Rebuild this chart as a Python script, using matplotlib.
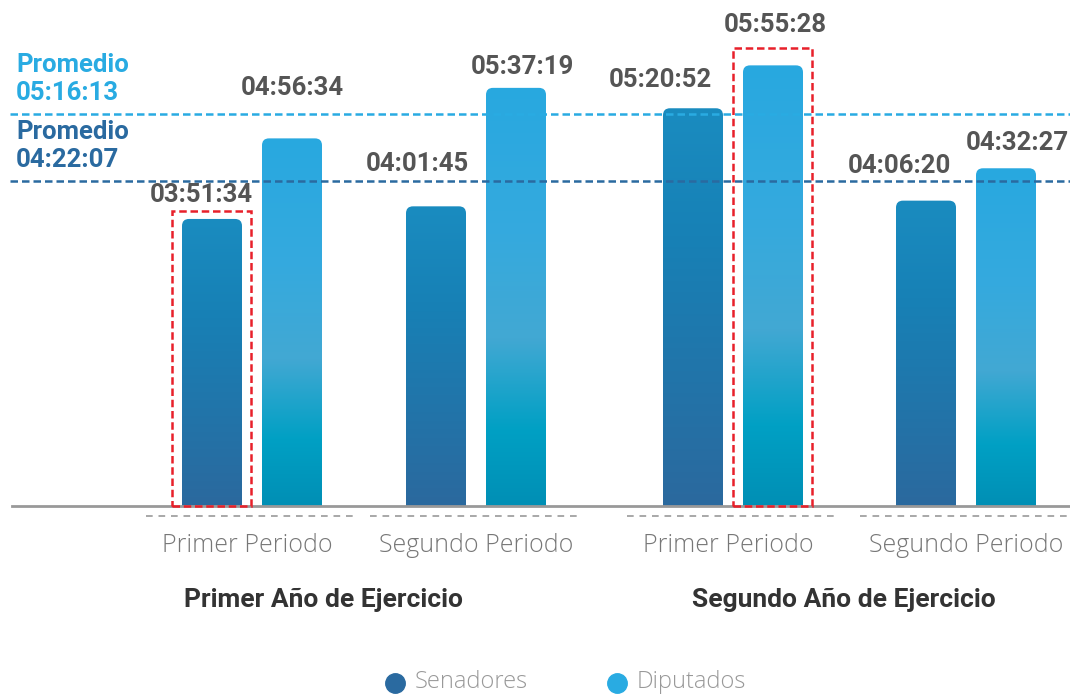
import matplotlib
matplotlib.use("Agg")
import matplotlib.pyplot as plt
import numpy as np
from matplotlib.path import Path
from matplotlib.patches import PathPatch, Rectangle
from matplotlib.colors import LinearSegmentedColormap

plt.rcParams['font.family'] = ['Roboto', 'DejaVu Sans']

# datos
periodos = ["Primer Periodo", "Segundo Periodo", "Primer Periodo", "Segundo Periodo"]
anios = ["Primer Año de Ejercicio", "Segundo Año de Ejercicio"]
senadores = ["03:51:34", "04:01:45", "05:20:52", "04:06:20"]
diputados = ["04:56:34", "05:37:19", "05:55:28", "04:32:27"]
prom_senadores = "04:22:07"
prom_diputados = "05:16:13"
series = ["Senadores", "Diputados"]


def a_segundos(t):
    h, m, s = [int(v) for v in t.split(":")]
    return h * 3600 + m * 60 + s


sen_s = [a_segundos(t) for t in senadores]
dip_s = [a_segundos(t) for t in diputados]

# layout (pixeles)
W, H = 1070, 695
BASE = 506          # linea base, px desde arriba
SCALE = 0.02066     # px por segundo
centros = [252, 476, 733, 966]
sep = 40
ancho = 60
# desplazamientos de etiquetas (dx, alto sobre la barra) en px
off_sen = [(-11, 24), (-19, 42), (-33, 28), (-27, 35)]
off_dip = [(0, 50), (6, 21), (2, 40), (11, 25)]

c_sen = "#2a6aa0"
c_dip = "#29abe2"
cmap_sen = LinearSegmentedColormap.from_list("sen", [(0, "#2b699e"), (0.68, "#1781b6"), (1, "#1a8cc0")])
cmap_dip = LinearSegmentedColormap.from_list("dip", [(0, "#008fb5"), (0.18, "#00a0c4"),
                                                      (0.4, "#42a8d3"), (0.65, "#35aade"), (1, "#28a8e0")])
fuente_fina = ['Open Sans', 'DejaVu Sans']

fig = plt.figure(figsize=(W / 100, H / 100), dpi=100)
ax = fig.add_axes([0, 0, 1, 1])
ax.axis("off")


def py(ypx):
    return (BASE - ypx) / SCALE


def barra(xc, h, cmap):
    x0, x1 = xc - ancho / 2, xc + ancho / 2
    rx, ry = 7, 7 / SCALE
    verts = [(x0, 0), (x0, h - ry), (x0, h), (x0 + rx, h), (x1 - rx, h), (x1, h), (x1, h - ry), (x1, 0), (x0, 0)]
    codes = [Path.MOVETO, Path.LINETO, Path.CURVE3, Path.CURVE3, Path.LINETO,
             Path.CURVE3, Path.CURVE3, Path.LINETO, Path.CLOSEPOLY]
    patch = PathPatch(Path(verts, codes), facecolor="none", edgecolor="none")
    ax.add_patch(patch)
    grad = np.linspace(0, 1, 256).reshape(-1, 1)
    im = ax.imshow(grad, cmap=cmap, origin="lower", extent=[x0, x1, 0, h], aspect="auto", zorder=2)
    im.set_clip_path(patch)


for i, xc in enumerate(centros):
    for vals, txts, offs, cmap, dx in [(sen_s, senadores, off_sen, cmap_sen, -sep),
                                       (dip_s, diputados, off_dip, cmap_dip, sep)]:
        h = vals[i]
        barra(xc + dx, h, cmap)
        ox, oy = offs[i]
        ax.text(xc + dx + ox, h + oy / SCALE, txts[i], ha="center", va="center",
                fontsize=18.5, fontweight="bold", color="#555555", zorder=5)

ax.set_xlim(0, W)
ax.set_ylim(-(H - BASE) / SCALE, BASE / SCALE)

# cajas resaltadas
i_min = int(np.argmin(sen_s))
i_max = int(np.argmax(dip_s))
for xc, h, top_pad in [(centros[i_min] - sep, sen_s[i_min], 8), (centros[i_max] + sep, dip_s[i_max], 17)]:
    ax.add_patch(Rectangle((xc - ancho / 2 - 10, 0), ancho + 19, h + top_pad / SCALE, fill=False,
                           edgecolor="#e8202a", lw=1.8, linestyle=(0, (3, 1.5)), zorder=4))

# promedios
for val, col, ylab in [(prom_diputados, c_dip, 79), (prom_senadores, c_sen, 146)]:
    ys = a_segundos(val)
    ax.plot([10, W], [ys, ys], color=col, lw=1.8, linestyle=(0, (3, 1.6)), zorder=3)
    ax.text(16, py(ylab), "Promedio\n" + val, ha="left", va="center", fontsize=18.5,
            fontweight="bold", color=col, linespacing=1.2, zorder=5)

# eje
ax.plot([12, W], [0, 0], color="#999999", lw=2, zorder=3)
for xc, lab in zip(centros, periodos):
    ax.plot([xc - 106, xc + 102], [py(516), py(516)], color="#999999", lw=1.2, linestyle=(0, (4, 3.5)))
    ax.text(xc - 5 if lab.startswith("Primer") else xc, py(546), lab, ha="center", va="center",
            fontsize=18, fontweight="light", color="#777777", family=fuente_fina)
for k, lab in enumerate(anios):
    xm = (centros[2 * k] + centros[2 * k + 1]) / 2
    ax.text(xm - 40 if k == 0 else xm - 6, py(600), lab, ha="center", va="center",
            fontsize=19, fontweight="bold", color="#333333")

# leyenda
for xd, col, lab in [(395, c_sen, series[0]), (617, c_dip, series[1])]:
    ax.plot([xd], [py(683)], "o", color=col, markersize=14)
    ax.text(xd + 20, py(682), lab, ha="left", va="center", fontsize=17, fontweight="light",
            color="#999999", family=fuente_fina)

fig.savefig("out.png", dpi=100)
